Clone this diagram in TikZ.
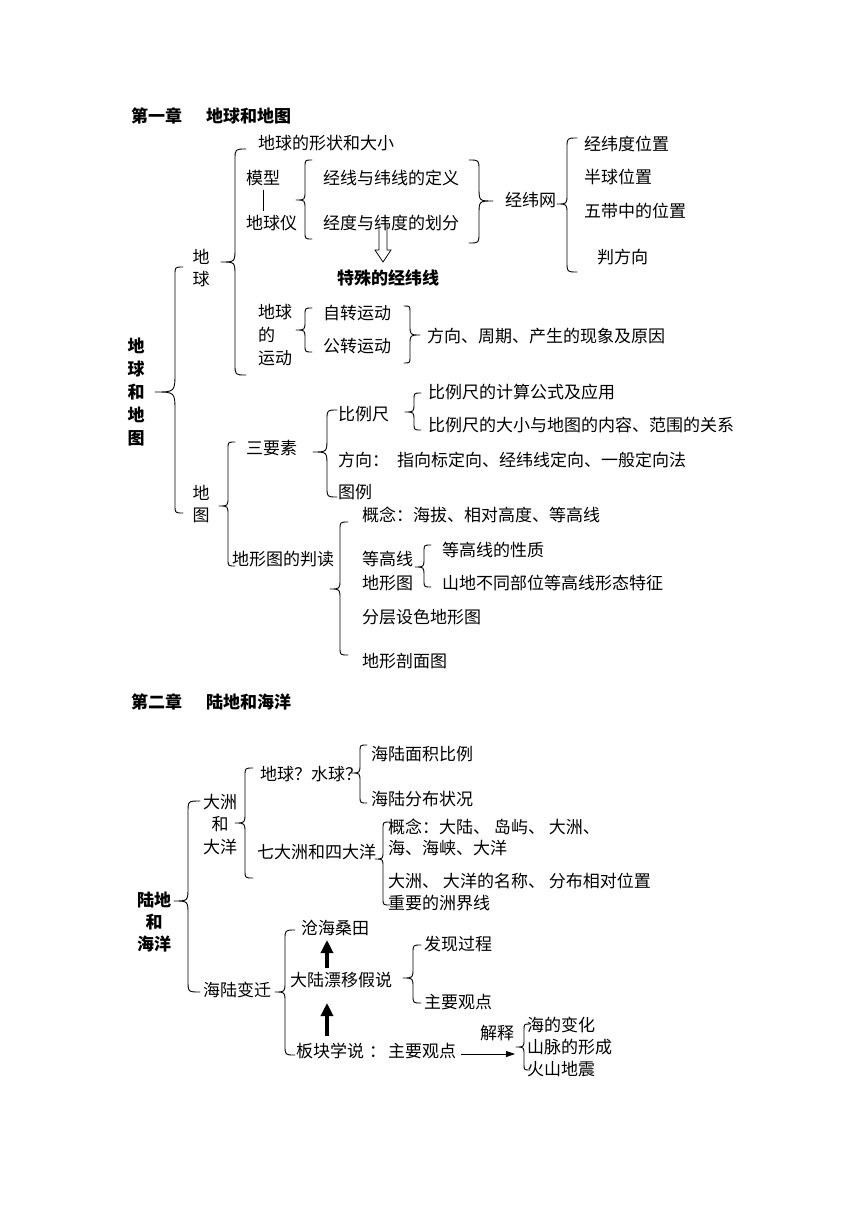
\documentclass[tikz,border=0pt]{standalone}
\usepackage{fontspec}
\newfontfamily\cjk{Noto Sans CJK SC}
\usetikzlibrary{arrows.meta}
\tikzset{
  txt/.style={anchor=west, inner sep=0pt, font=\cjk\fontsize{17}{20}\selectfont, text height=15pt, text depth=2pt},
  ctxt/.style={txt, anchor=center},
  btxt/.style={txt, font=\cjk\bfseries\fontsize{17}{20}\selectfont},
  bctxt/.style={btxt, anchor=center},
  brace line/.style={line width=0.9pt, line cap=round, line join=round},
}
% left brace: X, top, bottom, tip-y, curl, tip
\newcommand{\BrL}[6]{\draw[brace line] ({#1+#5},#2) .. controls (#1,#2) .. (#1,{#2+#5}) -- (#1,{#4-#6}) .. controls (#1,#4) .. ({#1-#6},#4) .. controls (#1,#4) .. (#1,{#4+#6}) -- (#1,{#3-#5}) .. controls (#1,#3) .. ({#1+#5},#3);}
\newcommand{\BrR}[6]{\draw[brace line] ({#1-#5},#2) .. controls (#1,#2) .. (#1,{#2+#5}) -- (#1,{#4-#6}) .. controls (#1,#4) .. ({#1+#6},#4) .. controls (#1,#4) .. (#1,{#4+#6}) -- (#1,{#3-#5}) .. controls (#1,#3) .. ({#1-#5},#3);}
\begin{document}
\begin{tikzpicture}[x=1pt, y=-1pt]
\fill[white] (0,0) rectangle (860,1216);
\useasboundingbox (0,0) rectangle (860,1216);

% ---------- Chapter 1 ----------
\node[btxt] (h1) at (131,116) {第一章\hspace{24pt}地球和地图};
\node[txt] (shape) at (258,143) {地球的形状和大小};
\node[txt] (mx) at (246,178) {模型};
\node[txt] (dqy) at (246,223) {地球仪};
\draw[line width=0.8pt, shorten <=3pt, shorten >=3pt] (mx.south) -- (mx.south |- dqy.north);
\node[txt] (jxdy) at (323,178) {经线与纬线的定义};
\node[txt] (jdhf) at (323,223) {经度与纬度的划分};
\node[txt] (jww) at (505,200) {经纬网};
\node[txt] (l1) at (584,144) {经纬度位置};
\node[txt] (l2) at (584,177) {半球位置};
\node[txt] (l3) at (584,211) {五带中的位置};
\node[txt] (l4) at (597,257) {判方向};
\node[btxt] (tsjw) at (337,278) {特殊的经纬线};
\coordinate (hatip) at (383,262);
\draw[line width=0.8pt, line join=miter] [shift={(hatip)}] (-4,-37) -- (-4,-12) -- (-8,-12) -- (0,0) -- (8,-12) -- (4,-12) -- (4,-37);

\node[ctxt] (dq1) at (201,257) {地};
\node[ctxt] (dq2) at (201,279) {球};

\node[txt] (yd1) at (258,312) {地球};
\node[txt] (yd2) at (258,335) {的};
\node[txt] (yd3) at (258,358) {运动};
\node[txt] (zz) at (323,313) {自转运动};
\node[txt] (gz) at (323,346) {公转运动};
\node[txt] (fx) at (427,336) {方向、周期、产生的现象及原因};

\node[bctxt] (m1) at (136,346) {地};
\node[bctxt] (m2) at (136,369) {球};
\node[bctxt] (m3) at (136,392) {和};
\node[bctxt] (m4) at (136,415) {地};
\node[bctxt] (m5) at (136,438) {图};

\node[txt] (blc) at (338,414) {比例尺};
\node[txt] (blc1) at (428,392) {比例尺的计算公式及应用};
\node[txt] (blc2) at (428,425) {比例尺的大小与地图的内容、范围的关系};
\node[txt] (sys) at (246,448) {三要素};
\node[txt] (fxn) at (338,460) {方向：};
\node[txt] (fxd) at (397,460) {指向标定向、经纬线定向、一般定向法};
\node[txt] (tl) at (338,492) {图例};

\node[ctxt] (dt1) at (201,493) {地};
\node[ctxt] (dt2) at (201,515) {图};

\node[txt] (pd) at (232,559) {地形图的判读};
\node[txt] (gn) at (362,515) {概念：海拔、相对高度、等高线};
\node[txt] (dgx) at (362,559) {等高线};
\node[txt] (dxt) at (362,583) {地形图};
\node[txt] (dg1) at (442,550) {等高线的性质};
\node[txt] (dg2) at (442,583) {山地不同部位等高线形态特征};
\node[txt] (fc) at (362,617) {分层设色地形图};
\node[txt] (pm) at (362,661) {地形剖面图};

% braces chapter 1
\BrL{175}{267}{513}{392}{8}{20}
\BrL{235}{149}{375}{262}{11}{14}
\BrL{305}{160}{239}{200}{7}{9}
\BrR{479}{160}{243}{201}{10}{14}
\BrL{567}{138}{272}{204}{10}{10}
\BrL{305}{308}{352}{330}{7}{9}
\BrR{410}{306}{363}{335}{6}{10}
\BrL{414}{393}{430}{412}{7}{9}
\BrL{327}{410}{497}{452}{10}{14}
\BrL{228}{442}{566}{506}{7}{9}
\BrL{340}{522}{655}{589}{8}{10}
\BrL{424}{545}{587}{567}{7}{9}

% ---------- Chapter 2 ----------
\node[btxt] (h2) at (131,702) {第二章\hspace{24pt}陆地和海洋};
\node[txt] (hl1) at (371,754) {海陆面积比例};
\node[txt] (dqsq) at (260,774) {地球？水球？};
\node[txt] (hl2) at (371,799) {海陆分布状况};
\node[ctxt] (dz1) at (220,802) {大洲};
\node[ctxt] (dz2) at (220,824) {和};
\node[ctxt] (dz3) at (220,847) {大洋};
\node[txt] (gn2a) at (388,827) {概念：大陆、 岛屿、 大洲、};
\node[txt] (gn2b) at (388,848) {海、海峡、大洋};
\node[txt] (qdz) at (257,852) {七大洲和四大洋};
\node[txt] (mc) at (388,881) {大洲、 大洋的名称、 分布相对位置};
\node[txt] (jjx) at (388,903) {重要的洲界线};
\node[bctxt] (ld1) at (154,900) {陆地};
\node[bctxt] (ld2) at (154,922) {和};
\node[bctxt] (ld3) at (154,944) {海洋};
\node[txt] (chst) at (301,928) {沧海桑田};
\node[txt] (fxgc) at (424,944) {发现过程};
\node[txt] (dlpy) at (290,980) {大陆漂移假说};
\node[txt] (hlbq) at (203,990) {海陆变迁};
\node[txt] (zygd) at (424,1002) {主要观点};
\node[txt] (js) at (480,1033) {解释};
\node[txt] (hdbh) at (527,1025) {海的变化};
\node[txt] (bkxs) at (296,1051) {板块学说\hspace{5pt}：\hspace{2pt}主要观点};
\node[txt] (smxc) at (527,1047) {山脉的形成};
\node[txt] (hsdz) at (527,1069) {火山地震};

\coordinate (a1s) at (327,968);
\coordinate (a1e) at (327,940);
\coordinate (a2s) at (327,1036);
\coordinate (a2e) at (327,1003);
\draw[line width=4pt, -{Triangle[length=13pt,width=12pt]}] (a1s) -- (a1e);
\draw[line width=4pt, -{Triangle[length=13pt,width=12pt]}] (a2s) -- (a2e);
\coordinate (jsend) at (515,1054);
\draw[line width=0.8pt, -{Triangle[length=9pt,width=6pt]}] (bkxs.east |- jsend) ++(5,0) -- (jsend);

% braces chapter 2
\BrL{245}{768}{878}{823}{8}{10}
\BrL{360}{745}{803}{773}{7}{9}
\BrL{383}{822}{905}{859}{7}{8}
\BrL{188}{801}{992}{901}{12}{14}
\BrL{285}{930}{1055}{992}{10}{10}
\BrL{413}{945}{1003}{978}{8}{10}
\BrL{524}{1024}{1070}{1047}{6}{8}
\end{tikzpicture}
\end{document}
